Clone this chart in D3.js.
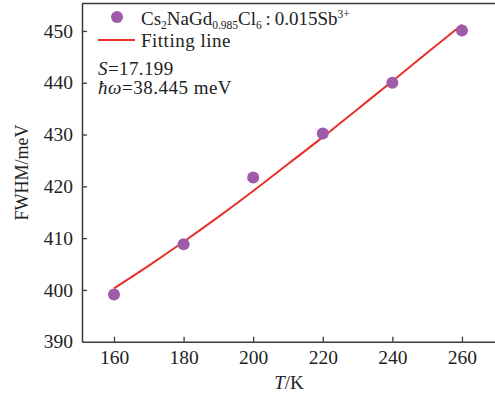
<!DOCTYPE html>
<html lang="en">
<head>
	<meta charset="UTF-8">
	<title>FWHM vs T</title>
	<style>
		body { margin: 0; background: #fff; }
		text { font-family: "Liberation Serif", "DejaVu Serif", serif; fill: #222; }
	</style>
</head>
<body>
<script src="https://d3js.org/d3.v7.min.js"></script>
<script>
	// 数据
	let temps = [160, 180, 200, 220, 240, 260];
	let fwhm = [399.1, 408.8, 421.7, 430.2, 440.0, 450.1];
	// 拟合曲线
	let fitT = [160, 170, 180, 190, 200, 210, 220, 230, 240, 250, 260];
	let fitY = [400.3, 404.7, 409.3, 414.1, 419.1, 424.3, 429.5, 434.9, 440.3, 445.8, 451.2];
	let xTicks = [160, 180, 200, 220, 240, 260];
	let yTicks = [390, 400, 410, 420, 430, 440, 450];

	let width = 495;
	let height = 394;
	let padding = { left: 82, right: 495, top: 3.5, bottom: 341.7 };

	let svg = d3.select('body')
			.append('svg')
			.attr('width', width)
			.attr('height', height);

	let xScale = d3.scaleLinear()
			.domain([150.8, 269.5])
			.range([padding.left, padding.right]);
	let yScale = d3.scaleLinear()
			.domain([390, 455.3])
			.range([padding.bottom, padding.top]);

	let axisColor = '#3a3a3a';

	// x轴
	let gx = svg.append('g')
			.attr('transform', 'translate(0,' + padding.bottom + ')')
			.call(d3.axisBottom(xScale).tickValues(xTicks).tickSize(-5).tickSizeOuter(0).tickPadding(8));
	// y轴
	let gy = svg.append('g')
			.attr('transform', 'translate(' + padding.left + ',0)')
			.call(d3.axisLeft(yScale).tickValues(yTicks).tickSize(-5).tickSizeOuter(0).tickPadding(9));

	[gx, gy].forEach(function(g) {
		g.select('.domain').attr('stroke', axisColor).attr('stroke-width', 1.5);
		g.selectAll('.tick line').attr('stroke', axisColor).attr('stroke-width', 1.3);
		g.selectAll('.tick text')
				.attr('font-family', '"Liberation Serif", serif')
				.attr('font-size', 19.5)
				.attr('fill', '#222');
	});
	gy.selectAll('.tick').filter(function(d) { return d === 390; }).select('line').remove();

	// 顶边框
	svg.append('line')
			.attr('x1', padding.left).attr('x2', padding.right)
			.attr('y1', padding.top).attr('y2', padding.top)
			.attr('stroke', axisColor)
			.attr('stroke-width', 1.5);

	// 拟合线
	let fitData = fitT.map(function(t, i) { return [t, fitY[i]]; });
	let linePath = d3.line()
			.x(function(d) { return xScale(d[0]); })
			.y(function(d) { return yScale(d[1]); })
			.curve(d3.curveMonotoneX);

	svg.append('path')
			.attr('d', linePath(fitData))
			.attr('fill', 'none')
			.attr('stroke', '#e8302a')
			.attr('stroke-width', 2);

	// 数据点
	svg.append('g')
			.selectAll('circle')
			.data(temps)
			.enter()
			.append('circle')
			.attr('cx', function(d) { return xScale(d); })
			.attr('cy', function(d, i) { return yScale(fwhm[i]); })
			.attr('r', 6)
			.attr('fill', '#a05aaa');

	// 图例
	svg.append('circle')
			.attr('cx', 117).attr('cy', 17).attr('r', 6)
			.attr('fill', '#a05aaa');
	let lg = svg.append('text')
			.attr('x', 141).attr('y', 25)
			.attr('font-size', 19);
	lg.append('tspan').text('Cs');
	lg.append('tspan').text('2').attr('font-size', 11.5).attr('dy', 4);
	lg.append('tspan').text('NaGd').attr('dy', -4);
	lg.append('tspan').text('0.985').attr('font-size', 11.5).attr('dy', 4);
	lg.append('tspan').text('Cl').attr('dy', -4);
	lg.append('tspan').text('6').attr('font-size', 11.5).attr('dy', 4);
	lg.append('tspan').text('\u2009:\u20090.015Sb').attr('dy', -4);
	lg.append('tspan').text('3+').attr('font-size', 11.5).attr('dy', -7);

	svg.append('line')
			.attr('x1', 98).attr('x2', 135)
			.attr('y1', 40).attr('y2', 40)
			.attr('stroke', '#e8302a')
			.attr('stroke-width', 2);
	svg.append('text')
			.attr('x', 141).attr('y', 47)
			.attr('font-size', 19)
			.attr('letter-spacing', 0.5)
			.text('Fitting line');

	let s = svg.append('text').attr('x', 98).attr('y', 75)
			.attr('font-size', 19).attr('letter-spacing', 0.4);
	s.append('tspan').text('S').attr('font-style', 'italic');
	s.append('tspan').text('=17.199');

	let hw = svg.append('text').attr('x', 98).attr('y', 94)
			.attr('font-size', 19).attr('letter-spacing', 0.5);
	hw.append('tspan').text('\u0127\u03c9').attr('font-style', 'italic');
	hw.append('tspan').text('=38.445 meV');

	// 坐标轴标题
	let xt = svg.append('text')
			.attr('x', 289).attr('y', 389)
			.attr('text-anchor', 'middle')
			.attr('font-size', 19);
	xt.append('tspan').text('T').attr('font-style', 'italic');
	xt.append('tspan').text('/K');

	svg.append('text')
			.attr('transform', 'translate(28,' + ((padding.top + padding.bottom) / 2) + ') rotate(-90)')
			.attr('text-anchor', 'middle')
			.attr('font-size', 18)
			.text('FWHM/meV');
</script>
</body>
</html>
